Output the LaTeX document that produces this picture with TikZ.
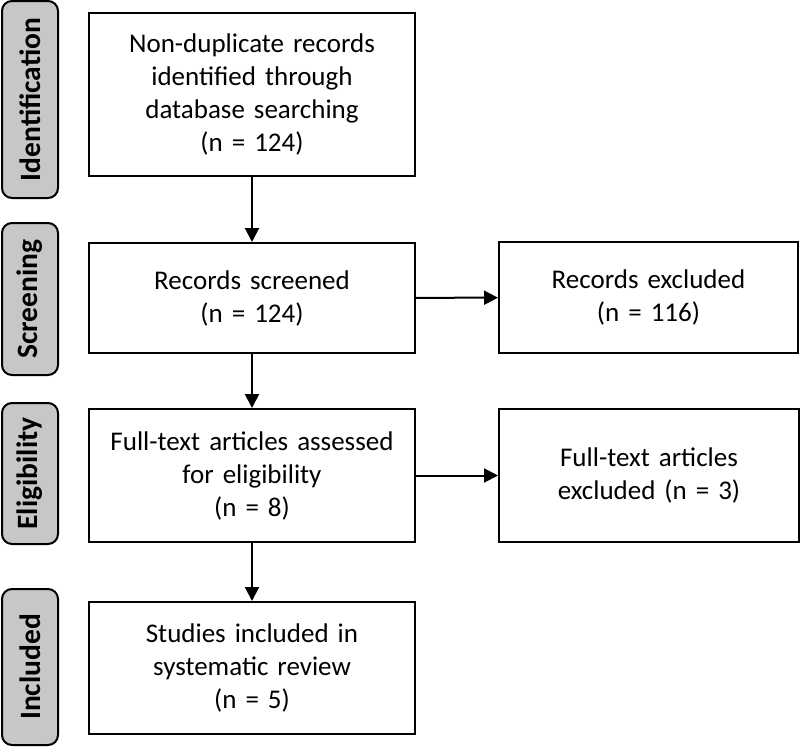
\documentclass[tikz,border=0pt]{standalone}
\usepackage{fontspec}
\setmainfont{Carlito}
\usetikzlibrary{arrows.meta,positioning}

\begin{document}
\begin{tikzpicture}[x=1pt, y=-1pt, line width=2pt, >={Triangle[length=14pt,width=14pt]},
main node/.style={rectangle,draw,text width=300pt,align=center,font=\fontsize{27}{33}\selectfont},
side node/.style={rectangle,draw,rounded corners=10pt,fill=black!22,rotate=90,minimum height=56pt,inner sep=0pt,font=\fontsize{29.5}{32}\selectfont\bfseries}]
\useasboundingbox (0,0) rectangle (800,747);
\begin{scope}[every node/.style={}]
\node[side node, minimum width=197pt] (s1) at (30,99.5) {Identification};
\node[side node, minimum width=152pt] (s2) at (30,299) {Screening};
\node[side node, minimum width=141pt] (s3) at (30,473.5) {Eligibility};
\node[side node, minimum width=156pt] (s4) at (30,667) {Included};
\end{scope}
\begin{scope}
\node[main node, minimum width=326pt, minimum height=163pt] (v1) at (252,94.5) {Non-duplicate records\\identified through\\database searching\\(n = 124)};
\node[main node, minimum width=326pt, minimum height=110pt] (v2) at (252,298) {Records screened\\(n = 124)};
\node[main node, text width=280pt, minimum width=299pt, minimum height=111pt] (v3) at (648.5,297.5) {Records excluded\\(n = 116)};
\node[main node, minimum width=326pt, minimum height=133pt] (v4) at (252,475.5) {Full-text articles assessed\\for eligibility\\(n = 8)};
\node[main node, text width=280pt, minimum width=300pt, minimum height=133pt] (v5) at (649,475.5) {Full-text articles\\excluded (n = 3)};
\node[main node, minimum width=326pt, minimum height=132pt] (v6) at (252,668) {Studies included in\\systematic review\\(n = 5)};
\end{scope}
\begin{scope}
\draw[->] (v1) -- (v2);
\draw[->] (v2) -- (v3);
\draw[->] (v2) -- (v4);
\draw[->] (v4) -- (v5);
\draw[->] (v4) -- (v6);
\end{scope}
\end{tikzpicture}
\end{document}
